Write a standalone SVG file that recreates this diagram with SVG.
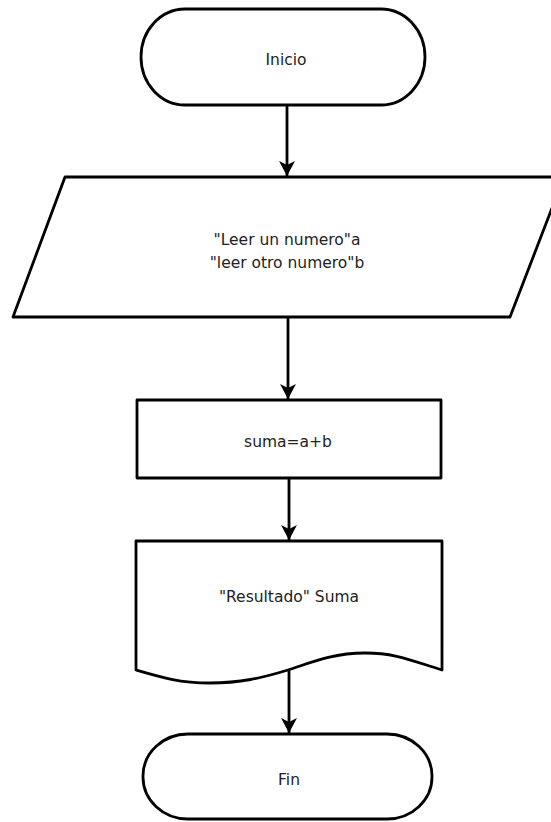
<svg xmlns="http://www.w3.org/2000/svg" width="551" height="822" viewBox="0 0 551 822">
<style>
.shape{fill:#ffffff;stroke:#000000;stroke-width:2.8;stroke-linejoin:round}
.edge{fill:none;stroke:#000000;stroke-width:2.8}
.lbl{font-family:"DejaVu Sans",Verdana,sans-serif;font-size:15.5px;fill:#222222;text-anchor:middle}
</style>
<defs>
<marker id="ah" markerUnits="userSpaceOnUse" markerWidth="18" markerHeight="18" viewBox="0 0 18 18" refX="16" refY="9" orient="auto">
<path d="M1,1 L16,9 L1,17 L5,9 Z" fill="#000"/>
</marker>
</defs>
<rect width="551" height="822" fill="#ffffff"/>
<g id="connectors">
<line class="edge" x1="287" y1="105" x2="287" y2="176" marker-end="url(#ah)"/>
<line class="edge" x1="288" y1="317" x2="288" y2="399" marker-end="url(#ah)"/>
<line class="edge" x1="289" y1="478" x2="289" y2="540" marker-end="url(#ah)"/>
<line class="edge" x1="289" y1="670" x2="289" y2="733" marker-end="url(#ah)"/>
</g>
<g id="inicio">
<rect class="shape" x="141" y="9" width="284" height="96" rx="44" ry="48"/>
<text class="lbl" x="286" y="65">Inicio</text>
</g>
<g id="entrada">
<polygon class="shape" points="65,177 564,177 510,317 13,317"/>
<text class="lbl" x="287" y="245">"Leer un numero"a</text>
<text class="lbl" x="287" y="268">"leer otro numero"b</text>
</g>
<g id="proceso">
<rect class="shape" x="137" y="400" width="304" height="78"/>
<text class="lbl" x="288" y="447">suma=a+b</text>
</g>
<g id="salida">
<path class="shape" d="M136,541 H442 V670 C410,660 395,653 365,653 C330,653 305,665 288,670 C262,678 240,683 210,683 C180,683 160,677 136,670 Z"/>
<text class="lbl" x="289" y="602">"Resultado" Suma</text>
</g>
<g id="fin">
<rect class="shape" x="143" y="734" width="289" height="85" rx="45" ry="42"/>
<text class="lbl" x="289" y="785">Fin</text>
</g>
</svg>
